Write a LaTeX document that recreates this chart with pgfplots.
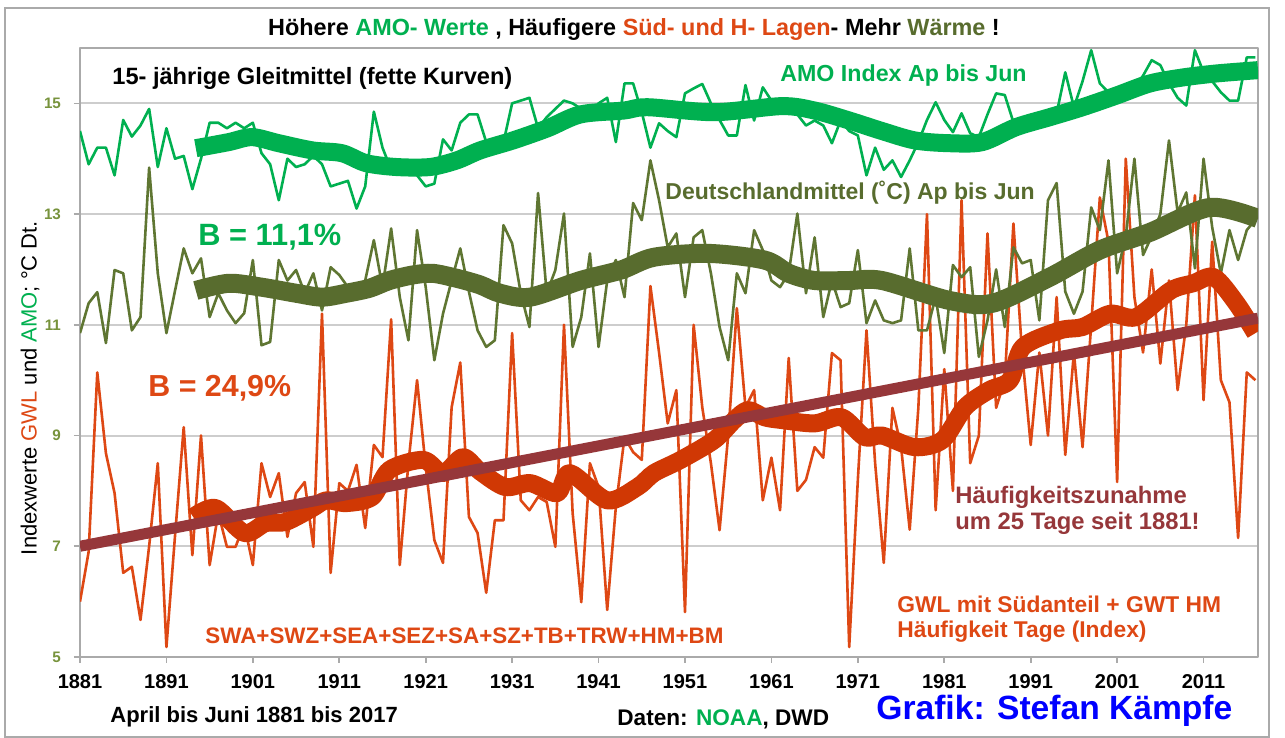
\documentclass[border=0pt]{standalone}
\usepackage{fontspec}
\setmainfont{Liberation Sans}
\usepackage{pgfplots}
\pgfplotsset{compat=1.18}
\usepackage{pgfplotstable}
\definecolor{amo}{RGB}{0,176,80}
\definecolor{olv}{RGB}{88,108,46}
\definecolor{olvthin}{RGB}{95,118,50}
\definecolor{gwl}{RGB}{222,72,20}
\definecolor{gwlthick}{RGB}{208,56,4}
\definecolor{trend}{RGB}{150,55,58}
\definecolor{ytickc}{RGB}{119,147,60}
\definecolor{gridc}{RGB}{205,205,205}
\definecolor{framec}{RGB}{170,170,170}
\newcommand{\fs}[1]{\fontsize{#1}{#1}\selectfont}

\pgfplotstableread{
year amo dt gwl
1881 14.5 10.85 6.0
1882 13.9 11.39 6.9
1883 14.2 11.59 10.14
1884 14.2 10.67 8.68
1885 13.7 11.99 7.96
1886 14.7 11.93 6.52
1887 14.4 10.9 6.63
1888 14.6 11.14 5.67
1889 14.9 13.84 7.0
1890 13.85 11.93 8.5
1891 14.55 10.85 5.18
1892 14.0 11.62 7.2
1893 14.05 12.38 9.15
1894 13.45 11.93 6.84
1895 14.0 12.2 9.0
1896 14.65 11.14 6.66
1897 14.65 11.57 7.6
1898 14.55 11.26 6.99
1899 14.65 11.03 6.99
1900 14.55 11.21 7.4
1901 14.65 12.17 6.66
1902 14.1 10.63 8.5
1903 13.9 10.69 7.89
1904 13.25 12.17 8.32
1905 14.0 11.8 7.17
1906 13.85 11.99 7.96
1907 13.9 11.57 8.16
1908 14.05 11.93 6.99
1909 13.9 11.26 11.2
1910 13.5 12.04 6.52
1911 13.55 11.9 8.14
1912 13.6 11.68 8.0
1913 13.1 11.62 8.47
1914 13.5 11.8 7.33
1915 14.85 12.53 8.83
1916 14.2 11.68 8.61
1917 13.8 12.74 11.1
1918 13.9 11.5 6.66
1919 13.85 10.72 8.5
1920 13.7 12.71 10.0
1921 13.5 11.68 8.43
1922 13.55 10.36 7.11
1923 14.35 11.2 6.7
1924 14.15 11.8 9.51
1925 14.65 12.38 10.32
1926 14.8 11.6 7.53
1927 14.8 10.9 7.24
1928 14.3 10.6 6.16
1929 14.3 10.72 7.47
1930 14.3 12.8 7.47
1931 15.0 12.47 10.85
1932 15.05 11.57 7.83
1933 15.1 10.96 7.65
1934 14.55 13.38 7.89
1935 14.75 11.57 7.8
1936 14.9 11.99 6.99
1937 15.05 13.01 11.0
1938 15.0 10.6 7.6
1939 14.9 11.14 5.99
1940 14.82 12.29 8.5
1941 15.0 10.6 8.07
1942 15.1 11.8 5.85
1943 14.3 12.17 7.71
1944 15.36 11.5 8.97
1945 15.36 13.2 8.7
1946 14.84 12.89 8.56
1947 14.2 13.97 11.7
1948 14.64 13.25 10.5
1949 14.5 12.4 9.22
1950 14.39 12.65 9.82
1951 15.18 11.5 5.81
1952 15.27 12.58 11.0
1953 15.35 12.71 9.51
1954 15.0 11.93 8.5
1955 14.7 10.96 7.29
1956 14.42 10.36 9.0
1957 14.42 11.93 11.3
1958 15.33 11.57 9.51
1959 14.69 12.71 9.82
1960 15.29 12.35 7.83
1961 15.05 11.8 8.6
1962 15.0 11.68 7.65
1963 14.93 11.93 10.4
1964 14.8 13.01 8.0
1965 14.6 11.57 8.2
1966 14.69 12.58 8.79
1967 14.6 11.14 8.6
1968 14.28 11.8 10.49
1969 14.69 11.32 10.36
1970 14.5 11.39 5.18
1971 14.42 12.35 8.2
1972 13.7 11.03 10.9
1973 14.2 11.44 8.5
1974 13.8 11.08 6.7
1975 13.97 11.03 9.5
1976 13.67 11.08 8.8
1977 13.97 12.38 7.3
1978 14.3 10.9 9.5
1979 14.7 10.9 13.0
1980 15.02 11.5 7.65
1981 14.7 10.49 10.2
1982 14.48 12.08 8.0
1983 14.82 11.86 13.25
1984 14.46 12.04 8.5
1985 14.39 10.42 9.0
1986 14.8 11.08 12.65
1987 15.18 12.0 9.5
1988 15.15 10.96 10.0
1989 14.66 12.4 12.83
1990 14.55 12.11 10.5
1991 14.6 12.17 8.83
1992 14.7 11.08 10.5
1993 14.8 13.25 9.0
1994 14.82 13.56 11.5
1995 15.56 11.6 8.65
1996 14.93 11.2 10.5
1997 15.4 11.6 8.79
1998 15.96 13.12 11.0
1999 15.36 12.71 13.3
2000 15.2 13.97 12.5
2001 15.18 11.93 8.16
2002 15.2 12.6 14.0
2003 15.29 14.0 11.5
2004 15.5 12.26 10.5
2005 15.78 12.6 12.0
2006 15.69 13.0 10.3
2007 15.36 14.33 11.8
2008 15.1 13.03 9.82
2009 14.96 13.39 11.0
2010 15.96 12.02 13.34
2011 15.56 14.0 9.64
2012 15.4 12.76 12.5
2013 15.2 11.93 10.0
2014 15.05 12.71 9.6
2015 15.05 12.17 7.15
2016 15.83 12.71 10.14
2017 15.83 12.9 10.0
}\data

\begin{document}
\begin{tikzpicture}
\fill[white] (0,0) rectangle (642.5pt,369pt);
\begin{axis}[
  at={(40pt,40.5pt)}, anchor=south west,
  scale only axis, width=589pt, height=304.5pt,
  xmin=1881, xmax=2017.3, ymin=5, ymax=16,
  xtick={1881,1891,...,2011}, ytick={5,7,...,15},
  ymajorgrids, grid style={gridc, line width=1pt},
  axis line style={framec, line width=1pt},
  tick align=outside, major tick length=3pt,
  tick style={framec, line width=0.8pt},
  xtick pos=bottom, ytick pos=left,
  /pgf/number format/assume math mode=true,
  /pgf/number format/1000 sep={},
  xticklabel style={font=\bfseries\fs{10}, yshift=-2pt},
  yticklabel style={font=\bfseries\fs{7.6}, text=ytickc, xshift=-3pt},
  line join=round,
]
\addplot[gwl, line width=1.3pt, line join=round] table[x=year,y=gwl]{\data};
\addplot[olvthin, line width=1.3pt, line join=round] table[x=year,y=dt]{\data};
\addplot[amo, line width=1.3pt, line join=round] table[x=year,y=amo]{\data};
\addplot[olv, line width=9.5pt, smooth] coordinates {
(1894.4,11.62) (1898.2,11.75) (1902.0,11.68) (1906.0,11.57) (1909.0,11.5)
(1911.8,11.57) (1914.5,11.66) (1916.8,11.8) (1919.5,11.9) (1921.8,11.93)
(1924.6,11.84) (1927.3,11.72) (1929.6,11.57) (1933.1,11.5) (1938.9,11.8)
(1943.6,11.99) (1947.4,12.22) (1953.7,12.29) (1960.2,12.17) (1963.0,11.93)
(1966.0,11.8) (1970.0,11.8) (1973.8,11.8) (1981.6,11.44) (1986.6,11.39)
(1993.2,11.86) (1999.0,12.35) (2004.8,12.67) (2011.7,13.12) (2017.3,12.92)};
\addplot[amo, line width=9pt, smooth] coordinates {
(1894.4,14.19) (1898.2,14.3) (1900.9,14.39) (1904.0,14.28) (1907.9,14.15)
(1911.3,14.1) (1914.1,13.92) (1917.6,13.85) (1921.5,13.85) (1924.6,13.97)
(1927.3,14.15) (1931.1,14.33) (1935.1,14.55) (1938.9,14.8) (1943.9,14.87)
(1946.7,14.93) (1954.4,14.84) (1962.2,14.95) (1966.0,14.87) (1970.0,14.69)
(1973.8,14.5) (1977.6,14.33) (1981.6,14.28) (1985.4,14.3) (1989.3,14.57)
(1993.2,14.75) (1997.0,14.93) (2000.9,15.14) (2004.8,15.36) (2008.7,15.47)
(2012.5,15.54) (2017.3,15.6)};
\addplot[gwlthick, line width=9pt, smooth] coordinates {
(1894.1,7.53) (1896.7,7.69) (1900.0,7.24) (1902.5,7.42) (1904.8,7.44)
(1907.9,7.69) (1909.5,7.83) (1911.8,7.78) (1914.8,7.89) (1916.8,8.38)
(1920.7,8.56) (1923.0,8.32) (1925.3,8.61) (1927.3,8.35) (1930.2,8.07)
(1933.1,8.14) (1936.2,7.96) (1937.7,8.32) (1942.0,7.83) (1945.5,8.07)
(1947.4,8.32) (1950.5,8.56) (1954.4,8.92) (1956.7,9.28) (1958.3,9.46)
(1960.2,9.33) (1962.2,9.28) (1966.0,9.22) (1969.1,9.33) (1971.8,8.97)
(1973.8,9.0) (1977.6,8.79) (1980.8,8.92) (1983.4,9.51) (1986.2,9.82)
(1988.6,10.0) (1990.1,10.6) (1994.4,10.9) (1997.0,10.96) (2000.2,11.2)
(2003.2,11.14) (2007.2,11.62) (2009.8,11.75) (2012.2,11.86) (2014.8,11.39)
(2017.0,10.85)};
\addplot[trend, line width=5.5pt] coordinates {(1881,7.0) (2017.3,11.12)};
\end{axis}
\begin{scope}[x=0.5pt, y=-0.5pt, yshift=369pt]
\draw[framec, line width=0.8pt] (5,8) rectangle (1269,737);
\node[font=\bfseries\fs{11.7}] at (634,30) {Höhere \textcolor{amo}{AMO- Werte} , Häufigere \textcolor{gwl}{Süd- und H- Lagen}- Mehr \textcolor{olv}{Wärme} !};
\node[anchor=west, font=\bfseries\fs{11.8}, inner sep=0] at (112,78) {15- jährige Gleitmittel (fette Kurven)};
\node[anchor=west, font=\bfseries\fs{11.6}, text=amo, inner sep=0] at (780,76) {AMO Index Ap bis Jun};
\node[anchor=west, font=\bfseries\fs{11.5}, text=olv, inner sep=0] at (665,193) {Deutschlandmittel (˚C) Ap bis Jun};
\node[anchor=west, font=\bfseries\fs{15.4}, text=amo, inner sep=0] at (198,237) {B = 11,1\%};
\node[anchor=west, font=\bfseries\fs{15.2}, text=gwl, inner sep=0] at (148,388) {B = 24,9\%};
\node[anchor=west, font=\bfseries\fs{11.9}, text=trend, inner sep=0] at (955,497) {Häufigkeitszunahme};
\node[anchor=west, font=\bfseries\fs{11.9}, text=trend, inner sep=0] at (955,523) {um 25 Tage seit 1881!};
\node[anchor=west, font=\bfseries\fs{11.4}, text=gwl, inner sep=0] at (897,604) {GWL mit Südanteil + GWT HM};
\node[anchor=west, font=\bfseries\fs{11.4}, text=gwl, inner sep=0] at (897,632) {Häufigkeit Tage (Index)};
\node[anchor=west, font=\bfseries\fs{11.2}, text=gwl, inner sep=0] at (205,636) {SWA+SWZ+SEA+SEZ+SA+SZ+TB+TRW+HM+BM};
\node[anchor=west, font=\bfseries\fs{11}, inner sep=0] at (110,717) {April bis Juni 1881 bis 2017};
\node[anchor=west, font=\bfseries\fs{11.3}, inner sep=0] at (617,719) {Daten: \textcolor{amo}{NOAA}, DWD};
\node[anchor=west, font=\bfseries\fs{16.8}, text=blue, inner sep=0] at (876,711) {Grafik: Stefan Kämpfe};
\node[rotate=90, font=\fs{11}, inner sep=0] at (30,388) {Indexwerte \textcolor{gwl}{GWL} und \textcolor{amo}{AMO}; °C Dt.};
\end{scope}
\pgfresetboundingbox
\path (0,0) rectangle (642.5pt,369pt);
\end{tikzpicture}
\end{document}
